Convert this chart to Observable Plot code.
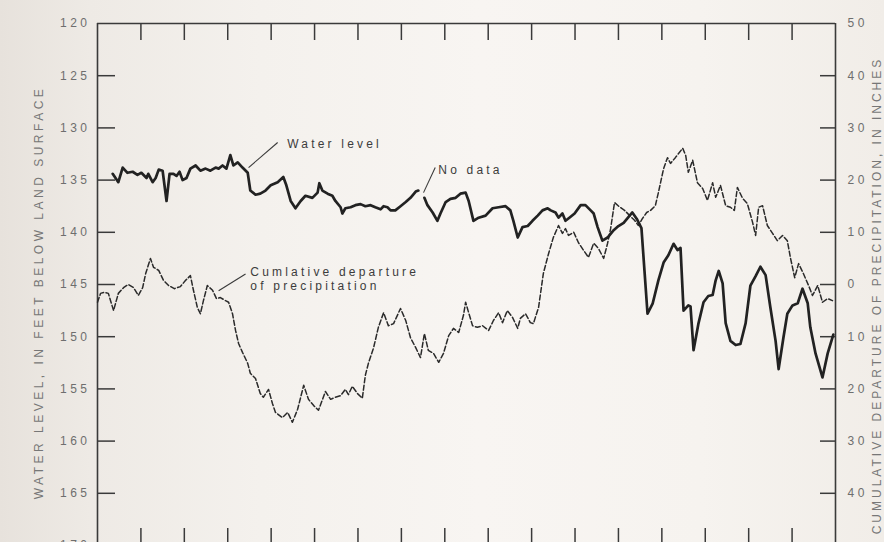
<!DOCTYPE html>
<html>
<head>
<meta charset="utf-8">
<script src="https://cdn.jsdelivr.net/npm/d3@7"></script>
<script src="https://cdn.jsdelivr.net/npm/@observablehq/plot@0.6"></script>
<style>
  html, body { margin: 0; padding: 0; width: 884px; height: 542px; overflow: hidden; }
  body {
    background: linear-gradient(to right, #e7e2dc 0px, #eeeae5 90px, #f4f1ed 260px, #f8f5f2 480px, #f6f3ef 700px, #f1ede8 884px);
    font-family: "Liberation Sans", Arial, sans-serif;
  }
  #chart svg { display: block; }
  g[aria-description="level labels"] text,
  g[aria-description="inch labels"] text { letter-spacing: 3.5px; }
  g[aria-description="notes"] text { letter-spacing: 3.2px; }
  g[aria-description="left title"] text { letter-spacing: 3.5px; }
  g[aria-description="right title"] text { letter-spacing: 3px; }
</style>
</head>
<body>
<div id="chart"></div>
<script>
// Water level in an observation well (feet below land surface), by year of record
const waterYears = [0.35,0.48,0.58,0.69,0.81,0.92,1.01,1.13,1.17,1.27,1.34,1.41,1.50,1.59,1.66,1.75,1.82,1.89,1.96,2.05,2.14,2.26,2.37,2.49,2.60,2.72,2.79,2.88,2.97,3.06,3.13,3.23,3.34,3.46,3.52,3.64,3.75,3.87,3.99,4.15,4.28,4.35,4.45,4.56,4.68,4.79,4.95,5.07,5.11,5.18,5.30,5.41,5.48,5.60,5.64,5.71,5.83,5.94,6.06,6.17,6.29,6.40,6.52,6.59,6.68,6.75,6.86,6.98,7.10,7.21,7.33,7.39,7.46,7.53,7.60,7.72,7.83,7.90,8.02,8.13,8.25,8.36,8.48,8.55,8.66,8.78,8.94,9.10,9.24,9.40,9.51,9.58,9.68,9.79,9.91,10.02,10.14,10.25,10.37,10.44,10.55,10.62,10.71,10.78,10.87,10.99,11.13,11.24,11.36,11.43,11.52,11.63,11.75,11.89,12.00,12.12,12.32,12.42,12.53,12.60,12.67,12.79,12.92,13.04,13.15,13.27,13.36,13.43,13.50,13.61,13.66,13.73,13.84,13.96,14.07,14.17,14.24,14.31,14.40,14.47,14.58,14.70,14.81,14.93,15.04,15.16,15.27,15.39,15.50,15.62,15.69,15.80,15.89,16.01,16.13,16.24,16.36,16.42,16.54,16.70,16.82,16.95];
// null marks the interval with no measurements
const waterLevel = [134.4,135.2,133.8,134.3,134.2,134.5,134.3,134.8,134.4,135.2,134.8,134.0,134.1,137.0,134.4,134.4,134.6,134.2,135.0,134.8,133.9,133.6,134.1,133.9,134.1,133.8,133.9,133.6,133.9,132.6,133.6,133.3,133.8,134.3,136.0,136.4,136.3,136.0,135.5,135.2,134.7,135.5,137.0,137.7,137.0,136.5,136.7,136.2,135.3,136.0,136.3,136.5,137.0,137.6,138.2,137.7,137.6,137.4,137.3,137.5,137.4,137.6,137.8,137.5,137.6,137.9,137.9,137.5,137.1,136.7,136.1,136.0,null,136.7,137.4,138.1,138.9,138.2,137.1,136.8,136.7,136.3,136.2,137.0,138.9,138.6,138.4,137.7,137.6,137.5,137.9,138.9,140.5,139.5,139.4,138.9,138.4,137.9,137.7,137.9,138.1,138.6,138.2,138.9,138.6,138.2,137.4,137.4,137.9,138.2,139.5,140.8,140.5,139.8,139.4,139.1,138.1,138.7,139.6,143.7,147.8,146.8,144.6,142.9,142.2,141.1,141.7,141.5,147.5,147.0,147.1,151.3,148.8,146.7,146.1,146.0,144.6,143.7,144.9,148.7,150.4,150.8,150.7,148.7,145.1,144.2,143.3,144.1,147.2,150.4,153.1,150.1,147.8,147.0,146.8,145.4,146.8,149.1,151.6,153.9,151.6,149.8];

// Cumulative departure from normal precipitation, inches
const precipYears = [0.00,0.07,0.16,0.25,0.37,0.48,0.60,0.71,0.83,0.94,1.04,1.11,1.22,1.29,1.41,1.52,1.64,1.77,1.91,2.03,2.14,2.21,2.30,2.37,2.44,2.53,2.65,2.74,2.83,2.95,3.02,3.11,3.18,3.25,3.34,3.46,3.52,3.64,3.75,3.82,3.94,4.03,4.10,4.26,4.38,4.49,4.61,4.75,4.86,4.98,5.09,5.25,5.37,5.48,5.60,5.71,5.78,5.87,5.99,6.10,6.17,6.24,6.36,6.47,6.59,6.70,6.82,6.98,7.10,7.21,7.33,7.44,7.53,7.62,7.74,7.86,7.97,8.09,8.20,8.32,8.43,8.48,8.55,8.64,8.75,8.87,9.01,9.12,9.24,9.33,9.44,9.56,9.68,9.74,9.86,9.97,10.04,10.16,10.27,10.39,10.50,10.62,10.71,10.78,10.85,10.97,11.08,11.20,11.31,11.43,11.54,11.66,11.75,11.82,11.91,12.02,12.14,12.26,12.37,12.46,12.55,12.65,12.74,12.85,12.92,13.04,13.13,13.20,13.31,13.48,13.55,13.61,13.71,13.82,13.94,14.05,14.17,14.24,14.35,14.47,14.58,14.67,14.74,14.86,14.97,15.09,15.16,15.23,15.32,15.43,15.55,15.66,15.78,15.89,15.96,16.06,16.15,16.26,16.38,16.47,16.59,16.70,16.82,16.93];
const precipDeparture = [-3.4,-1.7,-1.5,-1.7,-5.0,-1.7,-0.6,0.0,-0.6,-2.1,-0.6,2.1,5.0,3.3,2.7,0.8,-0.2,-0.8,-0.4,0.8,1.7,-1.1,-4.4,-5.6,-3.1,-0.2,-1.1,-2.7,-2.5,-3.1,-3.4,-5.6,-8.8,-11.3,-13.0,-15.1,-17.0,-18.0,-20.9,-21.6,-20.1,-22.8,-24.5,-25.5,-24.5,-26.4,-23.9,-19.3,-22.0,-23.2,-24.1,-20.5,-22.0,-21.6,-21.3,-20.1,-21.1,-19.5,-20.9,-21.8,-17.4,-15.1,-12.1,-8.2,-5.4,-7.9,-7.5,-4.6,-6.9,-10.2,-12.1,-14.0,-9.4,-12.6,-13.2,-14.9,-13.2,-9.8,-8.4,-9.2,-5.9,-3.4,-5.4,-7.9,-8.2,-7.9,-8.8,-6.9,-5.4,-7.3,-5.0,-6.3,-8.4,-6.5,-5.6,-7.3,-7.5,-4.4,2.1,5.9,9.0,11.3,9.8,10.7,9.4,10.0,8.0,6.5,5.2,7.9,6.9,5.0,7.9,10.7,15.7,14.9,14.2,13.2,12.3,11.3,12.6,13.8,14.2,15.1,17.6,22.2,24.3,23.2,24.3,26.1,24.7,21.5,23.8,19.5,18.4,16.1,19.5,16.7,19.0,15.1,14.8,14.2,18.6,16.5,15.5,11.9,9.4,14.8,15.1,11.3,9.8,8.4,9.4,8.4,5.2,1.3,4.0,2.1,-0.2,-2.1,-0.2,-3.4,-2.7,-3.1];

// Axes
const yearDomain = [0, 17];
const yearTicks = [1,2,3,4,5,6,7,8,9,10,11,12,13,14,15,16];
const levelDomain = [120, 170];
const levelLabels = [120,125,130,135,140,145,150,155,160,165,170];
const levelTicks = [125,130,135,140,145,150,155,160,165];
const inchLabels = [50,40,30,20,10,0,-10,-20,-30,-40];
const inchTicks = [40,30,20,10,0,-10,-20,-30,-40];

// Annotations (year, feet) and their leader lines
const notes = [
  {label: "Water level", year: 4.37, level: 131.5},
  {label: "No data", year: 7.85, level: 134.0},
  {label: "Cumlative departure\nof precipitation", year: 3.52, level: 144.4}
];
const leaders = [
  {year1: 4.15, level1: 131.4, year2: 3.48, level2: 133.8},
  {year1: 7.78, level1: 133.8, year2: 7.51, level2: 136.2},
  {year1: 3.41, level1: 144.0, year2: 2.79, level2: 145.6}
];

// The right-hand scale: 50 inches sits at 120 ft and 10 inches span 5 ft
const inchesToLevel = (inches) => 145 - inches / 2;

const water = waterYears.map((year, i) => ({year, level: waterLevel[i]}));
const precip = precipYears.map((year, i) => ({year, inches: precipDeparture[i]}));

const width = 884, height = 548;
const marginLeft = 97, marginRight = 49, marginTop = 23, marginBottom = 3;
const innerW = width - marginLeft - marginRight;
const innerH = height - marginTop - marginBottom;

const ink = "#3a3a3a";
const labelInk = "#6e6e6e";
const font = "Liberation Sans, Arial, sans-serif";

const chart = Plot.plot({
  width, height, marginLeft, marginRight, marginTop, marginBottom,
  x: {domain: yearDomain, axis: null},
  y: {domain: levelDomain, reverse: true, axis: null},
  style: {background: "transparent", fontFamily: font, overflow: "visible"},
  marks: [
    // frame: left, right and top edges
    Plot.ruleX(yearDomain, {stroke: ink, strokeWidth: 1.6}),
    Plot.ruleY([levelDomain[0]], {stroke: ink, strokeWidth: 1.6}),
    // inward ticks
    Plot.tickX(yearTicks, {x: d => d, stroke: ink, strokeWidth: 1.5, insetBottom: innerH - 17}),
    Plot.tickX(yearTicks, {x: d => d, stroke: ink, strokeWidth: 1.5, insetTop: innerH - 17}),
    Plot.tickY(levelTicks, {y: d => d, stroke: ink, strokeWidth: 1.5, insetRight: innerW - 18}),
    Plot.tickY(inchTicks, {y: d => inchesToLevel(d), stroke: ink, strokeWidth: 1.5, insetLeft: innerW - 15}),
    // tick labels
    Plot.text(levelLabels, {y: d => d, text: d => String(d), frameAnchor: "left", textAnchor: "end", dx: -7, fontSize: 12, fill: labelInk, ariaDescription: "level labels"}),
    Plot.text(inchLabels, {y: d => inchesToLevel(d), text: d => String(Math.abs(d)), frameAnchor: "right", textAnchor: "start", dx: 12, fontSize: 12, fill: labelInk, ariaDescription: "inch labels"}),
    // axis titles
    Plot.text(["WATER LEVEL, IN FEET BELOW LAND SURFACE"], {frameAnchor: "left", textAnchor: "middle", rotate: -90, dx: -58, dy: 8, fontSize: 12, fill: "#777", ariaDescription: "left title"}),
    Plot.text(["CUMULATIVE DEPARTURE OF PRECIPITATION, IN INCHES"], {frameAnchor: "right", textAnchor: "middle", rotate: -90, dx: 42, dy: 11, fontSize: 12, fill: "#777", ariaDescription: "right title"}),
    // series
    Plot.line(precip, {x: "year", y: d => inchesToLevel(d.inches), stroke: "#2a2a2a", strokeWidth: 1.5, strokeDasharray: "5,2.5", curve: "linear"}),
    Plot.line(water, {x: "year", y: "level", stroke: "#222", strokeWidth: 2.7, strokeLinejoin: "round", curve: "linear"}),
    // annotations
    Plot.link(leaders, {x1: "year1", y1: "level1", x2: "year2", y2: "level2", stroke: ink, strokeWidth: 1.1}),
    Plot.text(notes, {x: "year", y: "level", text: "label", textAnchor: "start", lineAnchor: "middle", lineHeight: 1.17, fontSize: 12, fill: "#3c3c3c", ariaDescription: "notes"})
  ]
});

document.getElementById("chart").append(chart);
</script>
</body>
</html>
